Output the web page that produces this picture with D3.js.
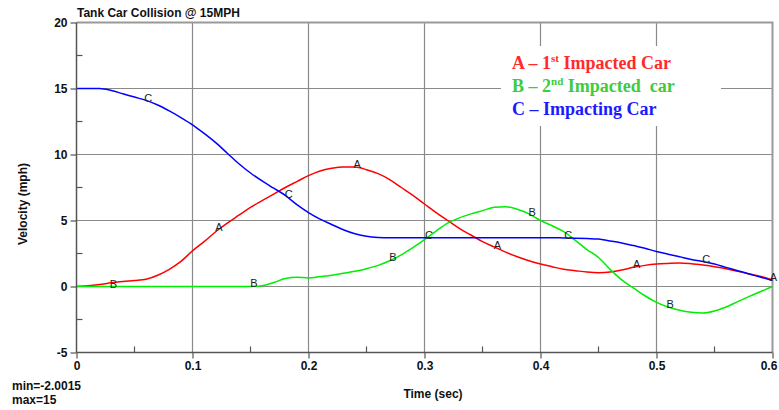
<!DOCTYPE html>
<html>
<head>
<meta charset="utf-8">
<script src="https://cdn.jsdelivr.net/npm/d3@7"></script>
<style>
  body { margin: 0; background: #fff; }
  svg { display: block; }
  text { font-family: "Liberation Sans", Arial, sans-serif; }
</style>
</head>
<body>
<div class="chart"></div>
<script>
(function chart() {

  // time axis, every 0.01 s
  var times = [0, 0.01, 0.02, 0.03, 0.04, 0.05, 0.06, 0.07, 0.08, 0.09,
    0.10, 0.11, 0.12, 0.13, 0.14, 0.15, 0.16, 0.17, 0.18, 0.19,
    0.20, 0.21, 0.22, 0.23, 0.24, 0.25, 0.26, 0.27, 0.28, 0.29,
    0.30, 0.31, 0.32, 0.33, 0.34, 0.35, 0.36, 0.37, 0.38, 0.39,
    0.40, 0.41, 0.42, 0.43, 0.44, 0.45, 0.46, 0.47, 0.48, 0.49,
    0.50, 0.51, 0.52, 0.53, 0.54, 0.55, 0.56, 0.57, 0.58, 0.59, 0.60];

  // A - 1st impacted car
  var carA = [0, 0.05, 0.15, 0.28, 0.38, 0.45, 0.55, 0.85, 1.3, 1.9,
    2.7, 3.4, 4.15, 4.8, 5.4, 6.0, 6.5, 7.0, 7.5, 7.95,
    8.4, 8.75, 8.95, 9.05, 9.05, 8.85, 8.55, 8.1, 7.5, 6.9,
    6.25, 5.6, 5.0, 4.4, 3.9, 3.4, 3.0, 2.6, 2.25, 1.95,
    1.7, 1.5, 1.3, 1.2, 1.1, 1.05, 1.1, 1.25, 1.45, 1.6,
    1.7, 1.75, 1.78, 1.72, 1.62, 1.5, 1.35, 1.15, 0.95, 0.75, 0.5];

  // B - 2nd impacted car
  var carB = [0, 0, 0, 0, 0, 0, 0, 0, 0, 0,
    0, 0, 0, 0, 0, 0, 0.05, 0.3, 0.6, 0.7,
    0.65, 0.75, 0.85, 1.0, 1.15, 1.35, 1.6, 1.95, 2.4, 2.95,
    3.55, 4.2, 4.8, 5.2, 5.5, 5.75, 6.0, 6.05, 5.85, 5.5,
    5.0, 4.6, 4.15, 3.5, 2.8, 2.2, 1.3, 0.5, -0.1, -0.7,
    -1.2, -1.55, -1.8, -1.95, -2.0, -1.85, -1.55, -1.15, -0.75, -0.38, 0];

  // C - impacting car
  var carC = [15, 15, 15, 14.85, 14.6, 14.35, 14.1, 13.75, 13.3, 12.8,
    12.25, 11.6, 10.9, 10.1, 9.3, 8.6, 8.0, 7.45, 6.9, 6.2,
    5.6, 5.1, 4.7, 4.3, 4.0, 3.8, 3.72, 3.7, 3.7, 3.7,
    3.7, 3.7, 3.7, 3.7, 3.7, 3.7, 3.7, 3.7, 3.7, 3.7,
    3.7, 3.7, 3.68, 3.66, 3.63, 3.6, 3.45, 3.3, 3.1, 2.9,
    2.65, 2.45, 2.25, 2.05, 1.9, 1.7, 1.45, 1.2, 0.95, 0.7, 0.45];

  // where the letter markers sit along each curve
  var markA = [0.122, 0.241, 0.362, 0.482, 0.6];
  var markB = [0.031, 0.152, 0.272, 0.392, 0.511];
  var markC = [0.061, 0.182, 0.303, 0.423, 0.542];

  var xTicks = [0, 0.1, 0.2, 0.3, 0.4, 0.5, 0.6];
  var yTicks = [-5, 0, 5, 10, 15, 20];

  var series = [
    { key: 'A', values: carA, marks: markA, color: '#ff0000' },
    { key: 'B', values: carB, marks: markB, color: '#00ee00' },
    { key: 'C', values: carC, marks: markC, color: '#0000ff' }
  ];

  var width = 779;
  var height = 410;

  var x = d3.scaleLinear().domain([0, 0.6]).range([76.5, 772.5]);
  var y = d3.scaleLinear().domain([-5, 20]).range([352.5, 22.5]);

  var svg = d3.select('.chart').append('svg')
    .attr('width', width)
    .attr('height', height);

  // grid
  var grid = svg.append('g');

  grid.selectAll('.vgrid')
      .data(xTicks.slice(1, -1))
      .enter()
    .append('line')
      .attr('x1', function (d) { return x(d); })
      .attr('x2', function (d) { return x(d); })
      .attr('y1', y(20))
      .attr('y2', y(-5))
      .attr('stroke', '#8a8a8a')
      .attr('stroke-width', 1.2);

  grid.selectAll('.hgrid')
      .data(yTicks.slice(1, -1))
      .enter()
    .append('line')
      .attr('x1', x(0))
      .attr('x2', x(0.6))
      .attr('y1', function (d) { return y(d); })
      .attr('y2', function (d) { return y(d); })
      .attr('stroke', '#8a8a8a')
      .attr('stroke-width', 1.2);

  // top and right frame
  svg.append('path')
    .attr('d', 'M' + x(0) + ',' + y(20) + 'H' + x(0.6) + 'V' + y(-5))
    .attr('fill', 'none')
    .attr('stroke', '#999')
    .attr('stroke-width', 2);

  // legend box hides the grid behind it
  var legend = svg.append('g').attr('transform', 'translate(501,46)');

  legend.append('rect')
    .attr('width', 220)
    .attr('height', 80)
    .attr('fill', '#fff');

  var legendRows = [
    { color: '#ff2a2a', parts: ['A \u2013 1', 'st', ' Impacted Car'] },
    { color: '#3ccc3c', parts: ['B \u2013 2', 'nd', ' Impacted  car'] },
    { color: '#1a1aff', parts: ['C \u2013 Impacting Car'] }
  ];

  legendRows.forEach(function (row, i) {
    var t = legend.append('text')
      .attr('x', 11)
      .attr('y', 23 + i * 23)
      .attr('fill', row.color)
      .style('font-family', '"Liberation Serif", "Times New Roman", serif')
      .style('font-weight', 'bold')
      .style('font-size', '18px')
      .style('white-space', 'pre');

    row.parts.forEach(function (p, j) {
      var span = t.append('tspan').text(p);
      if (j === 1) {
        span.attr('dy', -7).style('font-size', '11px');
      } else if (j === 2) {
        span.attr('dy', 7);
      }
    });
  });

  // curves
  var line = d3.line()
    .x(function (d, i) { return x(times[i]); })
    .y(function (d) { return y(d); })
    .curve(d3.curveMonotoneX);

  svg.selectAll('.curve')
      .data(series)
      .enter()
    .append('path')
      .attr('d', function (d) { return line(d.values); })
      .attr('fill', 'none')
      .attr('stroke', function (d) { return d.color; })
      .attr('stroke-width', 1.5);

  // letter markers on the curves
  function valueAt(values, t) {
    var i = Math.min(d3.bisectLeft(times, t), times.length - 1);
    if (i === 0) return values[0];
    var f = (t - times[i - 1]) / (times[i] - times[i - 1]);
    return values[i - 1] + f * (values[i] - values[i - 1]);
  }

  series.forEach(function (s) {
    svg.selectAll('.mark' + s.key)
        .data(s.marks)
        .enter()
      .append('text')
        .attr('x', function (d) { return x(d) + 1; })
        .attr('y', function (d) { return y(valueAt(s.values, d)) + 1; })
        .attr('text-anchor', 'middle')
        .style('font-size', '11px')
        .attr('fill', '#222')
        .text(s.key);
  });

  // axes
  var yAxis = d3.axisLeft(y)
    .tickValues(yTicks)
    .tickSize(6)
    .tickPadding(3)
    .tickFormat(function (d) { return String(d); });

  var gy = svg.append('g')
    .attr('transform', 'translate(' + x(0) + ',0)')
    .call(yAxis);

  var xAxis = d3.axisBottom(x)
    .tickValues(xTicks)
    .tickSize(6)
    .tickPadding(3)
    .tickFormat(function (d) { return d === 0 ? '0' : d3.format('.1f')(d); });

  var gx = svg.append('g')
    .attr('transform', 'translate(0,' + y(-5) + ')')
    .call(xAxis);

  [gx, gy].forEach(function (g) {
    g.select('.domain').attr('stroke', '#555').attr('stroke-width', 1.5);
    g.selectAll('.tick line').attr('stroke', '#555').attr('stroke-width', 1.2);
    g.selectAll('.tick text')
      .attr('fill', '#111')
      .style('font-family', '"Liberation Sans", Arial, sans-serif')
      .style('font-weight', 'bold')
      .style('font-size', '12px');
  });

  // last time label sits right at the edge of the page
  gx.selectAll('.tick text')
    .filter(function (d) { return d === 0.6; })
    .attr('dx', -4);

  gx.select('.domain').attr('d', 'M' + x(0) + ',0H' + x(0.6));
  gy.select('.domain').attr('d', 'M0,' + y(20) + 'V' + y(-5));

  // minor ticks inside the plot
  svg.append('g').selectAll('line')
      .data(d3.range(-2.5, 20, 5))
      .enter()
    .append('line')
      .attr('x1', x(0))
      .attr('x2', x(0) + 6)
      .attr('y1', function (d) { return y(d); })
      .attr('y2', function (d) { return y(d); })
      .attr('stroke', '#555')
      .attr('stroke-width', 1.2);

  svg.append('g').selectAll('line')
      .data(d3.range(0.05, 0.6, 0.1))
      .enter()
    .append('line')
      .attr('x1', function (d) { return x(d); })
      .attr('x2', function (d) { return x(d); })
      .attr('y1', y(-5))
      .attr('y2', y(-5) - 6)
      .attr('stroke', '#555')
      .attr('stroke-width', 1.2);

  // titles
  svg.append('text')
    .attr('x', 77)
    .attr('y', 17)
    .style('font-weight', 'bold')
    .style('font-size', '12px')
    .attr('fill', '#111')
    .text('Tank Car Collision @ 15MPH');

  svg.append('text')
    .attr('x', 433)
    .attr('y', 398)
    .attr('text-anchor', 'middle')
    .style('font-weight', 'bold')
    .style('font-size', '12px')
    .attr('fill', '#111')
    .text('Time (sec)');

  svg.append('text')
    .attr('transform', 'translate(27,204) rotate(-90)')
    .attr('text-anchor', 'middle')
    .style('font-weight', 'bold')
    .style('font-size', '12px')
    .attr('fill', '#111')
    .text('Velocity (mph)');

  svg.append('text')
    .attr('x', 12)
    .attr('y', 390)
    .style('font-weight', 'bold')
    .style('font-size', '12px')
    .attr('fill', '#111')
    .text('min=-2.0015');

  svg.append('text')
    .attr('x', 12)
    .attr('y', 404)
    .style('font-weight', 'bold')
    .style('font-size', '12px')
    .attr('fill', '#111')
    .text('max=15');
})();
</script>
</body>
</html>
